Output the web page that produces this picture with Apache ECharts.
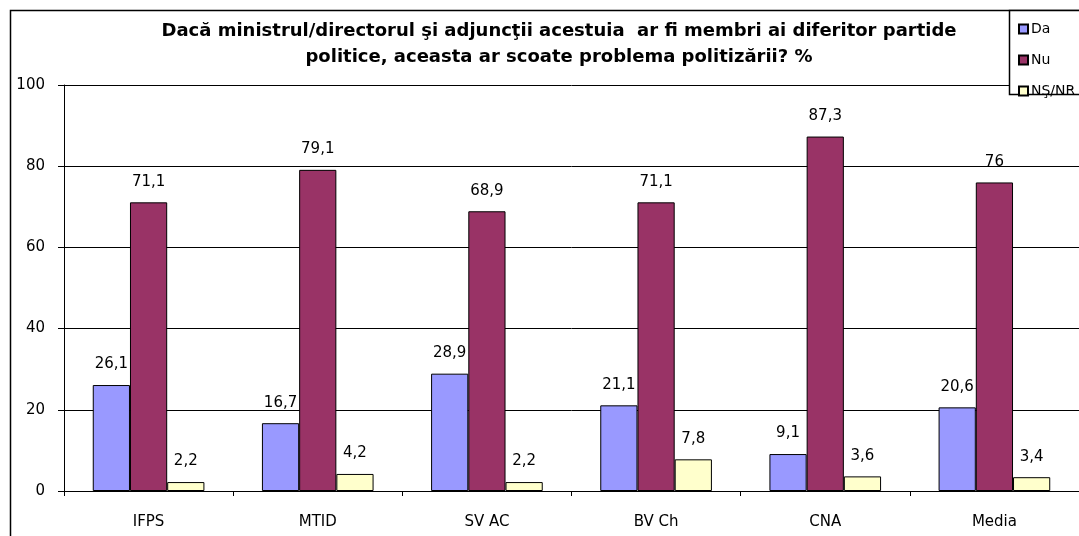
<!DOCTYPE html>
<html>
<head>
<meta charset="utf-8">
<script src="https://cdn.jsdelivr.net/npm/echarts@6/dist/echarts.min.js"></script>
<style>
  html, body { margin: 0; padding: 0; background: #fff; }
  #chart { width: 1079px; height: 536px; }
</style>
</head>
<body>
<div id="chart"></div>
<script>
// date
const categories = ['IFPS', 'MTID', 'SV AC', 'BV Ch', 'CNA', 'Media']
const seriesNames = ['Da', 'Nu', 'NŞ/NR']
const daValues = [26.1, 16.7, 28.9, 21.1, 9.1, 20.6]
const nuValues = [71.1, 79.1, 68.9, 71.1, 87.3, 76]
const nsValues = [2.2, 4.2, 2.2, 7.8, 3.6, 3.4]
const colors = ['#9999FF', '#993366', '#FFFFCC']

const FONT = 'DejaVu Sans'
const mychart = echarts.init(document.getElementById('chart'))

// eticheta cu virgula zecimala
const labelCfg = {
  show: true,
  position: 'top',
  distance: 13,
  color: '#000',
  fontFamily: FONT,
  fontSize: 15,
  formatter: p => String(p.value).replace('.', ',')
}

function bar(name, data, color) {
  return {
    name: name,
    type: 'bar',
    data: data,
    barGap: 0,
    barCategoryGap: '34%',
    itemStyle: { color: color, borderColor: '#000', borderWidth: 1 },
    label: labelCfg
  }
}

mychart.setOption({
  animation: false,
  textStyle: { fontFamily: FONT },
  title: {
    text: 'Dacă ministrul/directorul şi adjuncţii acestuia  ar fi membri ai diferitor partide\npolitice, aceasta ar scoate problema politizării? %',
    left: 554,
    textAlign: 'center',
    top: 13,
    textStyle: { fontFamily: FONT, fontSize: 18, fontWeight: 'bold', color: '#000', lineHeight: 26 }
  },
  legend: {
    orient: 'vertical',
    left: 1013,
    top: 17,
    z: 10,
    itemWidth: 9,
    itemHeight: 9,
    itemGap: 17,
    icon: 'rect',
    textStyle: { fontFamily: FONT, fontSize: 14, color: '#000', padding: [0, 0, 0, -2] },
    data: seriesNames
  },
  grid: { left: 64, right: -17, top: 85, bottom: 45, containLabel: false },
  xAxis: {
    type: 'category',
    data: categories,
    axisLine: { lineStyle: { color: '#000', width: 1 } },
    axisTick: { show: true, length: 5, lineStyle: { color: '#000' } },
    axisLabel: { color: '#000', fontFamily: FONT, fontSize: 15, margin: 24 }
  },
  yAxis: {
    type: 'value',
    min: 0,
    max: 100,
    interval: 20,
    axisLine: { show: true, lineStyle: { color: '#000' } },
    axisTick: { show: true, length: 6, lineStyle: { color: '#000' } },
    axisLabel: { color: '#000', fontFamily: FONT, fontSize: 15, margin: 19 },
    splitLine: { lineStyle: { color: '#000', width: 1 } }
  },
  graphic: [
    {
      type: 'rect',
      z: 0,
      shape: { x: 10.5, y: 10.5, width: 1200, height: 700 },
      style: { fill: 'none', stroke: '#000', lineWidth: 1.5 }
    },
    {
      type: 'rect',
      z: 5,
      shape: { x: 1009.5, y: 10.5, width: 120, height: 84 },
      style: { fill: '#fff', stroke: '#000', lineWidth: 1.5 }
    }
  ],
  series: [
    bar(seriesNames[0], daValues, colors[0]),
    bar(seriesNames[1], nuValues, colors[1]),
    bar(seriesNames[2], nsValues, colors[2])
  ]
})
</script>
</body>
</html>
